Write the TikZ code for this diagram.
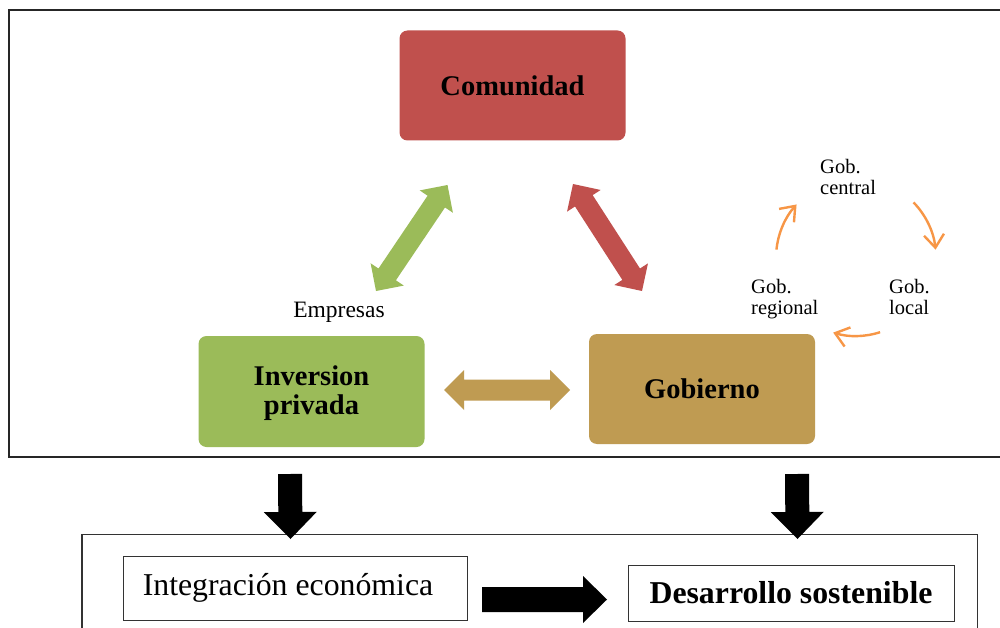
\documentclass[tikz,border=0pt]{standalone}
\usepackage{fontspec}
\setmainfont{Liberation Serif}
\usetikzlibrary{calc,arrows.meta}
\definecolor{redc}{RGB}{192,80,77}
\definecolor{greenc}{RGB}{155,187,89}
\definecolor{tanc}{RGB}{191,155,82}
\definecolor{orangec}{RGB}{247,150,70}
\newcommand\dblarrow[3]{%
  \coordinate (Ca) at ($(#1)!20pt!(#2)$);
  \coordinate (Cb) at ($(#2)!20pt!(#1)$);
  \fill[#3] (#1) -- ($(Ca)!20pt!90:(#2)$) -- ($(Ca)!10.5pt!90:(#2)$)
    -- ($(Cb)!10.5pt!-90:(#1)$) -- ($(Cb)!20pt!-90:(#1)$) -- (#2)
    -- ($(Cb)!20pt!90:(#1)$) -- ($(Cb)!10.5pt!90:(#1)$)
    -- ($(Ca)!10.5pt!-90:(#2)$) -- ($(Ca)!20pt!-90:(#2)$) -- cycle;}
\newcommand\blockarr[5]{% tail, tip, half shaft, half head, head length
  \coordinate (Ch) at ($(#2)!#5!(#1)$);
  \fill[black] ($(#1)!#3!90:(#2)$) -- ($(Ch)!#3!90:(#2)$)
    -- ($(Ch)!#4!90:(#2)$) -- (#2) -- ($(Ch)!#4!-90:(#2)$)
    -- ($(Ch)!#3!-90:(#2)$) -- ($(#1)!#3!-90:(#2)$) -- cycle;}
\tikzset{
  colbox/.style={rounded corners=8pt, minimum width=226pt, minimum height=110pt,
    font=\fontsize{28.5}{29}\selectfont\bfseries, align=center, inner sep=0pt},
  small/.style={font=\fontsize{20.5}{21.5}\selectfont, inner sep=0pt, align=left},
  whitebox/.style={draw=black!80, line width=1pt, inner sep=0pt},
  orarrow/.style={draw=orangec, line width=2.4pt, -{Straight Barb[length=13pt,width=20pt]}}
}
\begin{document}
\begin{tikzpicture}[x=1pt,y=-1pt]
\clip (0,0) rectangle (1000,628);
\useasboundingbox (0,0) rectangle (1000,628);
\fill[white] (0,0) rectangle (1000,628);
% outer frames
\draw[line width=2pt, black!85] (9,10) rectangle (1010,456.5);
\draw[line width=1.4pt, black!80] (82,534.5) rectangle (977.5,640);
% coloured boxes
\node[colbox, fill=redc] (com) at (512.5,85.5) {Comunidad};
\node[colbox, fill=greenc, minimum height=111pt] (inv) at (311.5,391.5) {\raisebox{-3pt}[\height][\depth]{\begin{tabular}{@{}c@{}}Inversion\\[0pt] privada\end{tabular}}};
\node[colbox, fill=tanc] (gob) at (702,389) {Gobierno};
% labels
\node[small, anchor=base, font=\fontsize{23.5}{24}\selectfont] (emp) at (339,317) {Empresas};
\node[small, anchor=north west] (gc) at (820,159) {Gob.\\central};
\node[small, anchor=north west] (gr) at (751,279) {Gob.\\regional};
\node[small, anchor=north west] (gl) at (889,279) {Gob.\\local};
% double arrows
\coordinate (g1) at (376,291); \coordinate (g2) at (447.5,185);
\coordinate (r1) at (573,184); \coordinate (r2) at (642,291);
\coordinate (t1) at (444,390); \coordinate (t2) at (570,390);
\dblarrow{g1}{g2}{greenc}
\dblarrow{r1}{r2}{redc}
\dblarrow{t1}{t2}{tanc}
% orange cycle
\coordinate (oc) at (856,258);
\draw[orarrow] ($(oc)+(186:80)$) arc[start angle=186,end angle=222,radius=80];
\draw[orarrow] ($(oc)+(316:80)$) arc[start angle=316,end angle=354,radius=80];
\draw[orarrow] ($(oc)+(72:78)$) arc[start angle=72,end angle=107,radius=78];
% bottom boxes
\node[whitebox, minimum width=344pt, minimum height=64pt, font=\fontsize{31.8}{32}\selectfont] (integ) at (295,588) {\hspace*{-14pt}Integración económica};
\node[whitebox, minimum width=326pt, minimum height=56pt, font=\fontsize{31.8}{32}\selectfont\bfseries] (des) at (791,593) {Desarrollo sostenible};
% black block arrows
\coordinate (a1) at (290,474); \coordinate (a2) at (290.5,539);
\coordinate (b1) at (797,474); \coordinate (b2) at (797.5,539);
\coordinate (c1) at (482,599.5); \coordinate (c2) at (607,599.5);
\blockarr{a1}{a2}{12pt}{26.5pt}{27pt}
\blockarr{b1}{b2}{12pt}{26.5pt}{27pt}
\blockarr{c1}{c2}{12.5pt}{23.5pt}{24pt}
\end{tikzpicture}
\end{document}
